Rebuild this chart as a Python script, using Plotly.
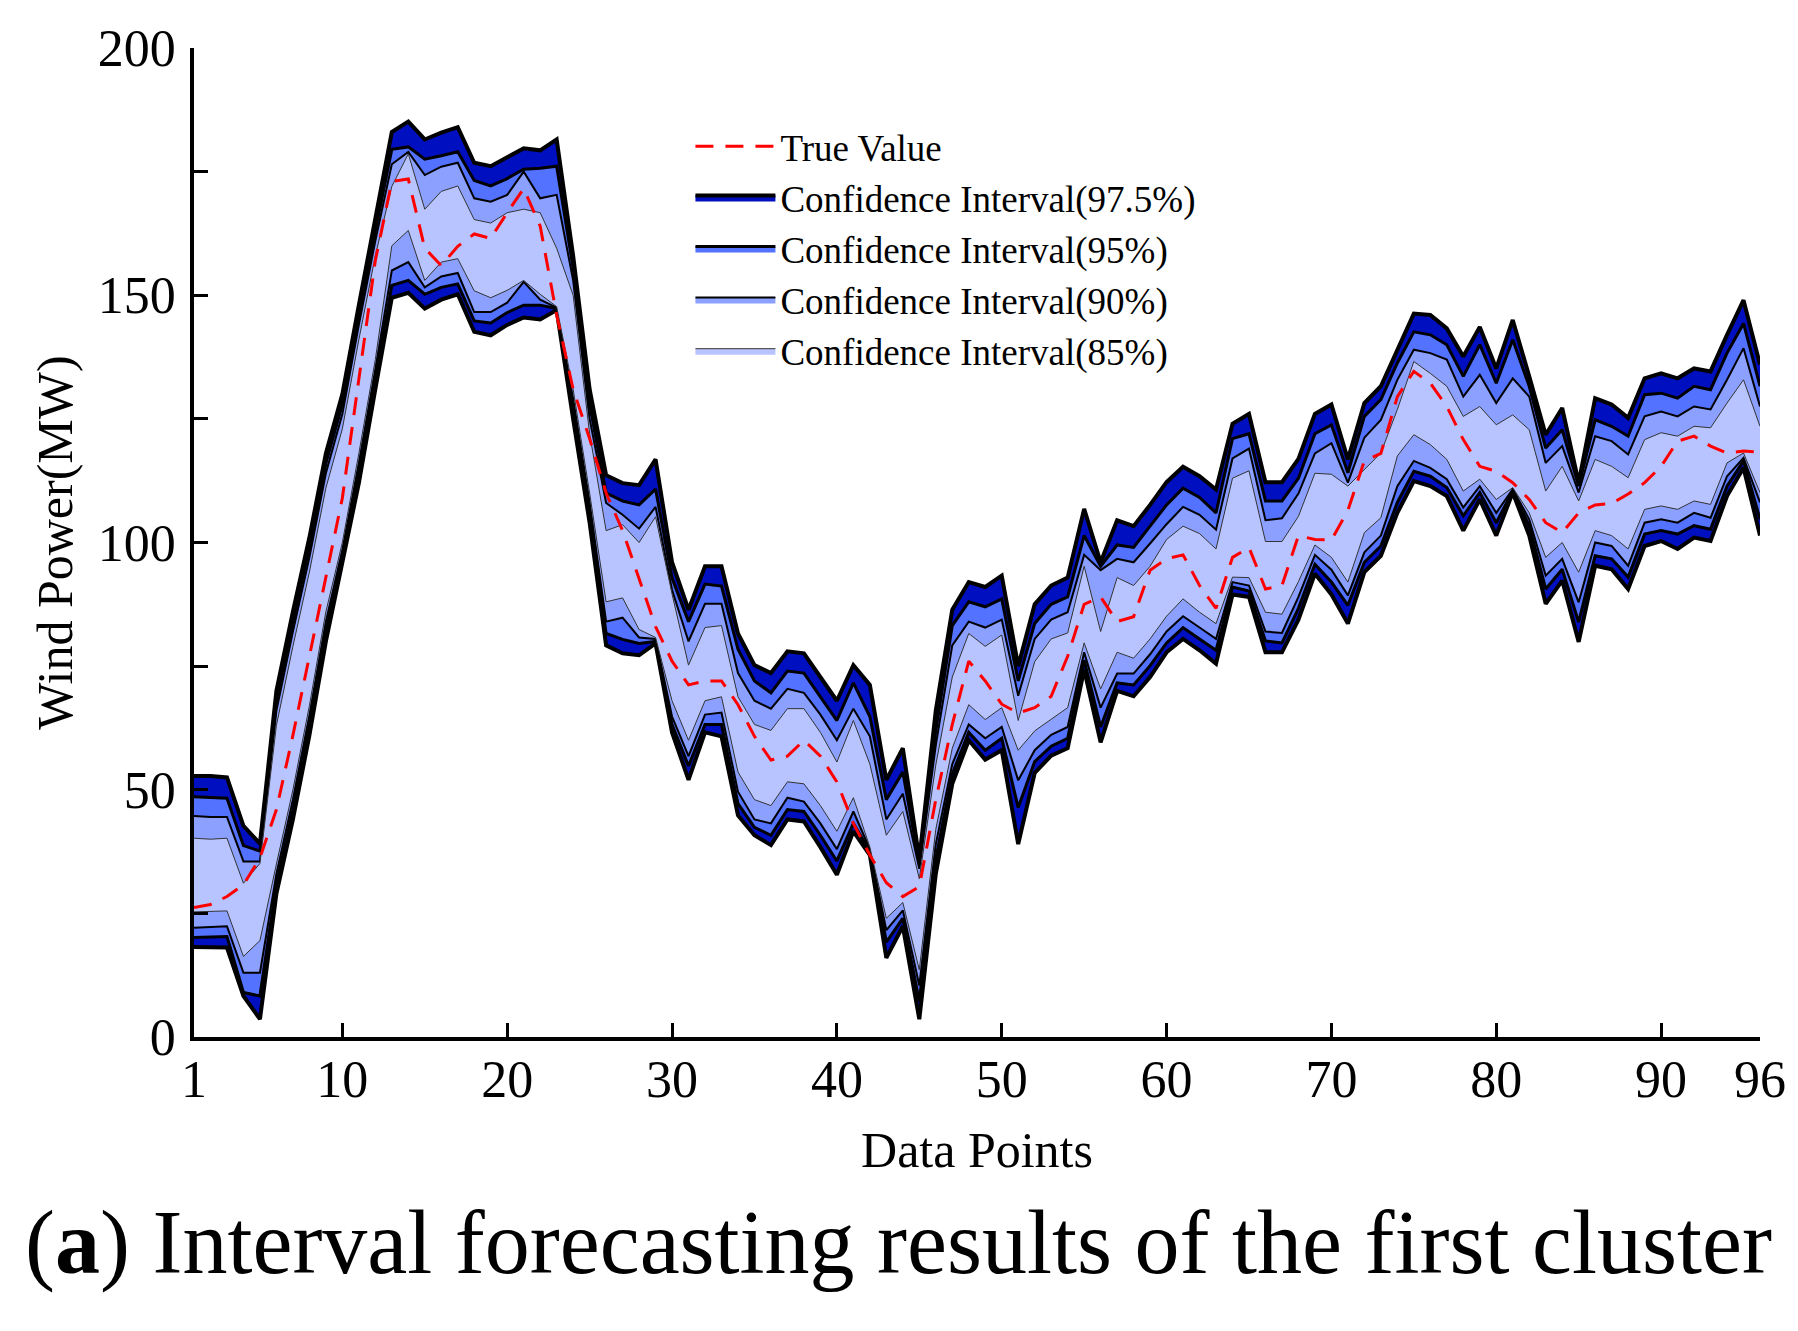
import plotly.graph_objects as go

# data points 1..96
x = list(range(1, 97))

true_value = [26.2, 26.8, 28.4, 30.8, 36.2, 46, 61, 77, 93, 109,
              133, 157, 173, 173.5, 159.5, 156, 159.9, 162.4, 161.5, 166.7,
              171.6, 164, 146, 131, 121, 110, 102.4, 92.5, 83, 76,
              71.2, 72, 72, 67.2, 60.8, 56, 56.8, 60, 56.8, 51.6,
              43.2, 36.8, 31.2, 28.4, 30.4, 48, 63.2, 76, 72, 67.3,
              65.5, 66.6, 68.9, 77, 87.5, 89, 84, 85, 94.4, 96.7,
              97.5, 91.3, 86.7, 97, 99, 90.6, 91.3, 101.4, 100.6, 100.5,
              106.5, 116.5, 118, 129.5, 134.6, 132.2, 127.5, 120.8, 115.4, 114.4,
              112.1, 108.7, 104, 102, 106, 107.6, 107.9, 109.8, 112.1, 115.4,
              120.5, 121.5, 119.5, 118.1, 118.5, 118.3]

up_975 = [52.8, 52.8, 52.5, 42.7, 39.1, 70, 86, 101, 118, 130,
          148, 165, 183, 185.1, 181.5, 182.9, 184, 176.8, 176.1, 177.9,
          179.7, 179.3, 181.5, 158, 131, 113.6, 112, 111.6, 116.8, 96,
          86.4, 95.2, 95.2, 81.6, 75.2, 73.6, 78, 77.6, 72.8, 68,
          75.2, 71.2, 52, 58.4, 36, 66, 86.4, 92, 91, 93.3,
          75, 87.5, 91.3, 92.9, 106.8, 96, 104.5, 103.3, 107.6, 112.2,
          115.3, 113.4, 110.7, 124, 126, 112.2, 112.2, 116.9, 126, 127.9,
          116.8, 128.2, 131.6, 139, 146.3, 146, 143.3, 137.6, 143.6, 135.2,
          145, 133.6, 121.8, 127.2, 112.1, 129.2, 127.9, 125.2, 133.2, 134.2,
          133.2, 135.2, 134.6, 142, 149, 136]
up_95 = [48.6, 48.5, 48.3, 38.7, 37.6, 68, 84, 99, 116, 128,
         146, 163, 179.5, 180, 177.5, 178.2, 179, 173.2, 172.1, 173.6,
         175.5, 175.7, 176.1, 155.5, 128, 110, 108.4, 107.6, 110.8, 92.8,
         84, 91.6, 91.2, 78.4, 72, 69.6, 74, 73.6, 68.8, 64,
         71.6, 64.8, 48, 53.6, 35, 62, 83.2, 88, 87, 88.6,
         72, 83.6, 87.5, 89, 101.4, 95.2, 99.5, 99, 103.3, 107.6,
         111, 109.1, 106, 121, 122, 108.4, 108.4, 113, 122, 123.8,
         114.1, 125.5, 128.9, 136.3, 142.6, 142, 140, 133.6, 140, 132.2,
         141, 131.6, 119.1, 122.8, 111.4, 124.8, 123.5, 121.5, 129.9, 130.2,
         129.2, 131.6, 130.9, 138.3, 144.3, 131.6]
up_90 = [44.7, 44.5, 44.5, 35.5, 35.5, 66, 82, 97, 114, 126,
         144, 161, 176.5, 179, 174.3, 176, 176.8, 169.6, 168.9, 170.3,
         175, 169.6, 170.3, 153, 125, 108, 105.6, 102.8, 107.2, 90.4,
         80, 87.6, 87.6, 73.6, 68, 66.4, 70.4, 69.6, 65.2, 60,
         66.4, 60.8, 44, 49.2, 34, 59, 79.2, 84, 82.8, 84.4,
         69, 80.5, 84.4, 85.9, 97.5, 94.4, 96.7, 96, 99.8, 103.7,
         107.2, 105.6, 102.6, 117, 119, 104.5, 104.9, 109.9, 118, 120.1,
         112.1, 121.2, 124.8, 132.9, 139, 138.3, 137, 129.5, 133.9, 128.2,
         133.2, 129.5, 116.1, 119.5, 110.1, 121.5, 120.5, 117.8, 125.5, 126.5,
         125.5, 127.5, 126.9, 132.9, 139.3, 127.5]
up_85 = [40.2, 40, 40.2, 31.1, 35.1, 63, 79, 94, 111, 123,
         141, 158, 172, 178.6, 167.4, 171, 172.1, 165.3, 164.6, 166.7,
         167.4, 166.7, 159.5, 150, 122, 102.4, 103.6, 100, 105.2, 89.6,
         75.2, 82.8, 83.2, 68.8, 63.2, 62, 66.4, 66.4, 61.6, 55.6,
         64, 55.2, 40.8, 45.6, 32, 55, 72.8, 81.6, 79, 81.3,
         64, 75.9, 80.5, 81.7, 95.2, 82, 92.9, 91.3, 95.2, 100.6,
         103.3, 101.8, 98.7, 113, 114.5, 100.2, 100.2, 105.3, 114, 113.8,
         111.4, 114.8, 118.1, 126.9, 136.6, 134.2, 131.6, 125.5, 127.5, 123.8,
         125.8, 122.8, 110.4, 115.4, 108.4, 116.8, 115.4, 113.1, 120.8, 122.2,
         121.5, 123.5, 123.2, 128.2, 132.9, 123.5]

low_85 = [25.3, 25.4, 25.5, 16.3, 19.5, 35, 50, 67, 86, 100,
          118, 137, 160, 163.1, 153, 156.7, 157.4, 150.9, 149.5, 151,
          153, 150.2, 147.7, 131, 110, 88, 88.8, 82.4, 80.8, 68,
          60, 68, 68.8, 53.6, 48, 46.8, 51.6, 51.2, 46.8, 41.6,
          48.4, 38.4, 24, 27.2, 13.6, 42, 58.4, 67.2, 64.2, 66.6,
          58, 61.9, 64.2, 66.6, 79.7, 70.4, 77.8, 76.6, 80.5, 85.1,
          88.6, 85.9, 83.6, 93, 92.9, 85.9, 85.5, 92.1, 99.5, 97,
          92, 102, 105, 117.5, 121.8, 119.8, 116.8, 110.4, 112.8, 108.7,
          111.1, 106, 97, 100, 94, 102.4, 101.4, 98.7, 106.7, 107.4,
          106.7, 108.4, 107.7, 116.1, 118.1, 110.1]
low_90 = [22.1, 22.2, 22.4, 13, 13, 33, 48, 65, 84, 98.5,
          116, 135, 155, 156.7, 151.6, 153.8, 154.5, 146.6, 146.6, 148.5,
          152.7, 149.1, 147.5, 129, 108, 84, 84.8, 80.8, 80.5, 64.8,
          56.8, 65.2, 65.6, 49.6, 44, 43.2, 48.4, 47.6, 43.2, 38,
          45.6, 38, 21.6, 25.6, 10.4, 39, 55.2, 63.2, 60.4, 62.7,
          51.9, 58, 61.1, 62.7, 77.8, 66.6, 73.5, 73.5, 77.4, 82,
          85.1, 82.8, 80.5, 92, 91.3, 82, 81.7, 89, 97.5, 94.5,
          89.3, 98, 101.4, 111.4, 116.5, 115.1, 112.8, 107.1, 111.4, 106,
          110.8, 104.7, 93.3, 96.7, 87.9, 100, 99.3, 95.3, 104, 104.7,
          104, 106, 105, 113.4, 117.1, 108.1]
low_95 = [20.1, 20.2, 20.3, 9, 8.3, 31, 46, 63, 82, 97,
          114, 133, 152, 153, 150.2, 151.6, 152.3, 144.8, 144.4, 146.5,
          148, 148, 147.3, 127, 106, 81.6, 80.4, 79.6, 80, 63.2,
          54.8, 63.2, 63.2, 47.2, 42.4, 40.8, 46, 45.6, 40.8, 35.6,
          43.2, 37.6, 19.2, 24, 7.2, 36, 53.2, 61.6, 58, 60.4,
          46.4, 55.7, 58.8, 60.4, 76.2, 62.7, 71.6, 71.2, 75.1, 79.7,
          82.8, 80.5, 78.2, 91, 90.2, 80.1, 79.7, 86.7, 95.6, 92,
          87.3, 96, 99.3, 108.1, 114.4, 113.4, 111.1, 105.4, 110.1, 104,
          110.4, 103.4, 90.6, 94.6, 83.9, 97.3, 96.7, 93, 101.7, 102.4,
          101.7, 103.4, 102.7, 111.4, 116.5, 104.7]
low_975 = [18.2, 18.2, 18.1, 8.3, 3.6, 29, 44, 61, 80, 96,
           112, 131, 149.5, 150.5, 147.3, 149.1, 150.2, 142.6, 141.9, 144,
           145.5, 145.1, 147, 125, 104, 79.2, 77.6, 77.2, 79.6, 61.6,
           52, 61.6, 60.8, 44.8, 40.8, 38.8, 44, 43.6, 38.4, 32.8,
           41.6, 36.8, 16, 22.4, 3.6, 33, 51.2, 60, 56.1, 58,
           39, 53.4, 56.9, 58.4, 74.3, 59.6, 70, 68.9, 72.8, 77.8,
           80.5, 78.2, 75.5, 89.5, 89, 77.8, 77.8, 84.4, 93.7, 89.5,
           83.6, 94, 97.3, 106, 112.4, 111.4, 109.4, 102.4, 108.7, 101.4,
           110.1, 101.4, 87.6, 92.3, 79.9, 95.3, 94.6, 90.6, 99.3, 100.3,
           98.7, 101, 100.3, 109.4, 115.1, 101.4]

x_ticks = [1, 10, 20, 30, 40, 50, 60, 70, 80, 90, 96]
y_ticks = [0, 25, 50, 75, 100, 125, 150, 175, 200]
y_labels = ["0", "", "50", "", "100", "", "150", "", "200"]

FONT = "Liberation Serif, Times New Roman, serif"

# (label, lower, upper, fill colour, edge colour, edge width) - widest band first
bands = [
    ("Confidence Interval(97.5%)", low_975, up_975, "#0010C0", "black", 4),
    ("Confidence Interval(95%)", low_95, up_95, "#5272FF", "black", 3),
    ("Confidence Interval(90%)", low_90, up_90, "#8CA0FF", "black", 2),
    ("Confidence Interval(85%)", low_85, up_85, "#B8C4FF", "#333333", 1),
]

fig = go.Figure()
for i, (name, lo, hi, col, edge, lw) in enumerate(bands):
    fig.add_trace(go.Scatter(x=x, y=lo, mode="lines", showlegend=False,
                             line=dict(color=edge, width=lw), hoverinfo="skip"))
    fig.add_trace(go.Scatter(x=x, y=hi, mode="lines", name=name, fill="tonexty",
                             fillcolor=col, line=dict(color=edge, width=lw),
                             legendrank=i + 2))

fig.add_trace(go.Scatter(x=x, y=true_value, mode="lines", name="True Value",
                         line=dict(color="#FF0000", width=3, dash="18px,12px"),
                         legendrank=1))

# page body has an 8px margin, so the figure is 8px smaller than the window
fig.update_layout(
    width=1790, height=1323,
    margin=dict(l=186, r=38, t=36, b=294),
    paper_bgcolor="white", plot_bgcolor="white",
    font=dict(family=FONT, color="black"),
    showlegend=True,
    legend=dict(x=0.317, y=0.9315, xanchor="left", yanchor="top",
                traceorder="normal",
                font=dict(size=37, family=FONT), bgcolor="rgba(0,0,0,0)",
                itemwidth=80, tracegroupgap=0),
    xaxis=dict(range=[1, 96], tickvals=x_ticks, ticks="inside", ticklen=14,
               tickwidth=3, tickcolor="black", showline=True, linewidth=3.5,
               linecolor="black", showgrid=False, zeroline=False,
               tickfont=dict(size=52), ticklabelstandoff=-6,
               title=dict(text="Data Points", font=dict(size=50), standoff=26)),
    yaxis=dict(range=[0, 200], tickvals=y_ticks, ticktext=y_labels, ticks="inside",
               ticklen=14, tickwidth=3, tickcolor="black", showline=True,
               linewidth=3.5, linecolor="black", showgrid=False, zeroline=False,
               tickfont=dict(size=52), ticklabelstandoff=4,
               title=dict(text="Wind Power(MW)", font=dict(size=50), standoff=10)),
)

fig.add_annotation(text="(<b>a</b>) Interval forecasting results of the first cluster",
                   xref="paper", yref="paper", x=0.45, y=-0.2085,
                   xanchor="center", yanchor="middle", showarrow=False,
                   font=dict(size=90, family=FONT, color="black"))

fig.write_html("out.html")
